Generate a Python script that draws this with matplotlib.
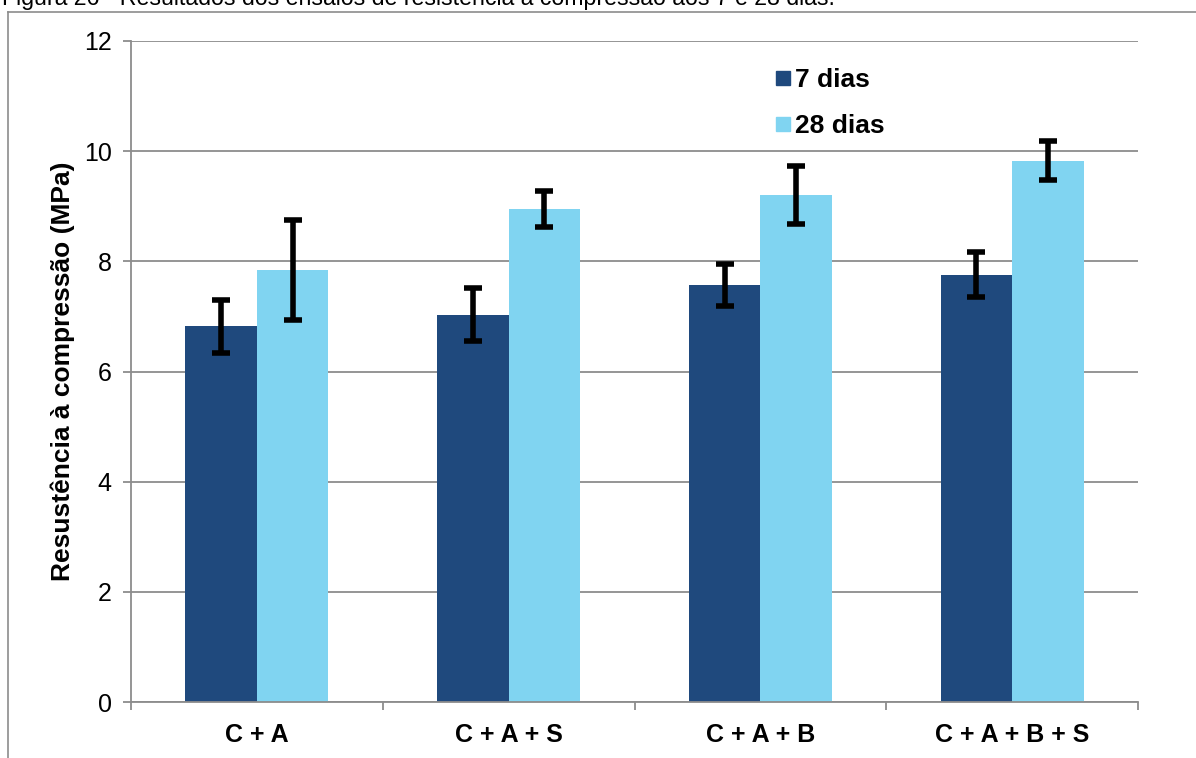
import numpy as np
import matplotlib.pyplot as plt
from matplotlib.lines import Line2D
from matplotlib import font_manager

plt.rcParams['font.family'] = ['Liberation Sans', 'DejaVu Sans']

categorias = ['C + A', 'C + A + S', 'C + A + B', 'C + A + B + S']
res_7 = [6.82, 7.03, 7.57, 7.76]
res_28 = [7.84, 8.95, 9.20, 9.83]
err_7 = [0.48, 0.48, 0.38, 0.41]
err_28 = [0.91, 0.33, 0.53, 0.35]
series = ['7 dias', '28 dias']

cor_7 = '#1F497D'
cor_28 = '#80D4F1'
cinza = '#8C8C8C'

# fonte estreita para o título do eixo y, se houver
nomes = {f.name for f in font_manager.fontManager.ttflist}
estreita = 'Liberation Sans Narrow' if 'Liberation Sans Narrow' in nomes else 'Liberation Sans'

W, H = 1196, 758
fig = plt.figure(figsize=(W / 100, H / 100), dpi=100)
ax = fig.add_axes([131 / W, 1 - 702 / H, (1138 - 131) / W, (702 - 41) / H])

x = np.arange(len(categorias))
w = 0.284
eb = dict(ecolor='black', elinewidth=4, capsize=6.5, capthick=4)
ax.bar(x - w / 2, res_7, w, color=cor_7, label=series[0], zorder=2)
ax.bar(x + w / 2, res_28, w, color=cor_28, label=series[1], zorder=2)
ax.errorbar(x - w / 2, res_7, yerr=err_7, fmt='none', zorder=3, **eb)
ax.errorbar(x + w / 2, res_28, yerr=err_28, fmt='none', zorder=3, **eb)

ax.set_xlim(-0.5, len(categorias) - 0.5)
ax.set_ylim(0, 12)
ax.set_yticks(range(0, 13, 2))
ax.yaxis.grid(True, color=cinza, linewidth=1.3, zorder=0)
ax.set_axisbelow(True)

for s in ['top', 'right']:
    ax.spines[s].set_visible(False)
for s in ['left', 'bottom']:
    ax.spines[s].set_color(cinza)
    ax.spines[s].set_linewidth(1.3)

ax.tick_params(axis='y', length=6, width=1.3, color=cinza, labelsize=18, pad=8)
ax.set_xticks(x)
ax.set_xticklabels(categorias, fontsize=18, fontweight='bold')
ax.tick_params(axis='x', length=0, pad=15)
# separadores entre grupos no eixo x
ax.set_xticks(np.arange(-0.5, len(categorias), 1.0), minor=True)
ax.tick_params(axis='x', which='minor', length=6, width=1.3, color=cinza)

ax.set_ylabel('Resustência à compressão (MPa)', fontsize=19, fontweight='bold',
              family=[estreita, 'DejaVu Sans'], labelpad=6)

handles = [Line2D([], [], marker='s', linestyle='none', markersize=10.5, color=c) for c in (cor_7, cor_28)]
ax.legend(handles, series, loc='upper left', bbox_to_anchor=(0.616, 0.995), frameon=False,
          prop={'size': 19, 'weight': 'bold'}, handlelength=0.6, handletextpad=0.15,
          labelspacing=0.85)

# moldura do gráfico e legenda da figura
fig.add_artist(Line2D([8 / W, 8 / W], [0, 1 - 12 / H], color=cinza, linewidth=1.2))
fig.add_artist(Line2D([8 / W, 1], [1 - 12 / H, 1 - 12 / H], color=cinza, linewidth=1.2))
fig.text(2 / W, 1 + 2 / H, 'Figura 26 - Resultados dos ensaios de resistência à compressão aos 7 e 28 dias.',
         fontsize=16.7, va='center', ha='left')

fig.savefig('out.png', dpi=100)
